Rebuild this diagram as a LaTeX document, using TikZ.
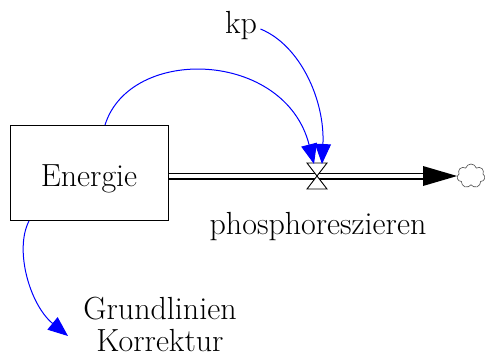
\documentclass[tikz,border=0pt]{standalone}
\usetikzlibrary{arrows.meta,calc,shapes.symbols}
\tikzset{
  link/.style={blue, line width=1pt, -{Triangle[length=20pt, width=16pt]}},
  stock/.style={draw, line width=1pt, minimum width=158pt, minimum height=95pt, text height=27pt, text depth=1pt},
  pipe/.style={line width=1.2pt, double distance=4.6pt}
}
\begin{document}
\begin{tikzpicture}[x=1pt, y=-1pt, font=\fontsize{32}{32}\selectfont]
  \useasboundingbox (0,0) rectangle (486,360);
  \node[stock] (energie) at (89,173) {Energie};
  \coordinate (valve) at (317,176);
  \coordinate (pipeend) at (423,176);
  \coordinate (korrtip) at (68,336);
  \node[cloud, cloud puffs=7, draw=black!70, line width=0.6pt, minimum width=28pt, minimum height=24pt, inner sep=0pt] (sink) at (471,176) {};
  \node[anchor=base] (kp) at (241,33) {kp};
  \node[anchor=base] (rate) at (318,234) {phosphoreszieren};
  \node[align=center, inner sep=0pt] (korr) at (160,324) {Grundlinien\\Korrektur};
  % flow pipe with valve
  \draw[pipe] (energie.east |- valve) -- (pipeend);
  \fill ($(pipeend)+(0,-10)$) -- ($(pipeend)+(0,10)$) -- (sink.west) -- cycle;
  \filldraw[fill=white, line width=0.9pt] (valve) -- ++(-10,-13) -- ++(20,0) -- cycle;
  \filldraw[fill=white, line width=0.9pt] (valve) -- ++(-10,13) -- ++(20,0) -- cycle;
  % information links
  \draw[link] (energie.north -| 105,0) .. controls (130,45) and (285,50) .. ($(valve)+(-3,-12)$);
  \draw[link] (kp.east |- 0,29) .. controls (300,45) and (325,100) .. ($(valve)+(5,-12)$);
  \draw[link] (energie.south -| 29,0) .. controls (14,250) and (30,305) .. (korrtip);
\end{tikzpicture}
\end{document}
